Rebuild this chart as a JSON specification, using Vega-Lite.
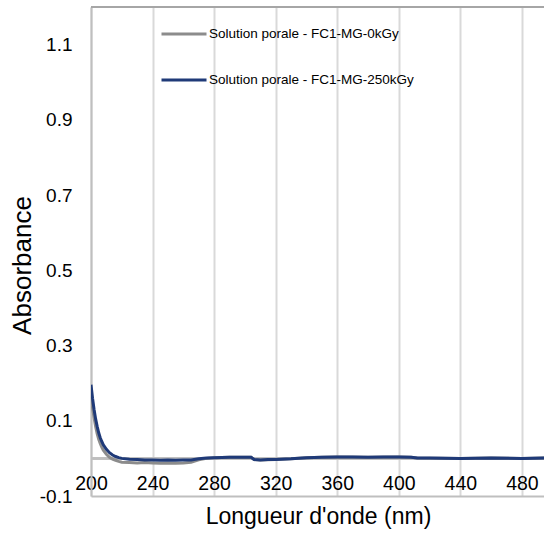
{
  "$schema": "https://vega.github.io/schema/vega-lite/v6.json",
  "autosize": {"type": "none"},
  "padding": {"left": 91, "top": 7, "right": 0, "bottom": 37},
  "width": 454,
  "height": 489,
  "background": "white",
  "config": {
    "font": "Liberation Sans",
    "view": {"stroke": null}
  },
  "data": {
    "values": [
      {"wl": 200, "A": 0.170, "s": "Solution porale - FC1-MG-0kGy"},
      {"wl": 201, "A": 0.135, "s": "Solution porale - FC1-MG-0kGy"},
      {"wl": 202, "A": 0.108, "s": "Solution porale - FC1-MG-0kGy"},
      {"wl": 203, "A": 0.085, "s": "Solution porale - FC1-MG-0kGy"},
      {"wl": 204, "A": 0.066, "s": "Solution porale - FC1-MG-0kGy"},
      {"wl": 205, "A": 0.051, "s": "Solution porale - FC1-MG-0kGy"},
      {"wl": 206, "A": 0.040, "s": "Solution porale - FC1-MG-0kGy"},
      {"wl": 207, "A": 0.030, "s": "Solution porale - FC1-MG-0kGy"},
      {"wl": 208, "A": 0.022, "s": "Solution porale - FC1-MG-0kGy"},
      {"wl": 210, "A": 0.011, "s": "Solution porale - FC1-MG-0kGy"},
      {"wl": 212, "A": 0.003, "s": "Solution porale - FC1-MG-0kGy"},
      {"wl": 214, "A": -0.002, "s": "Solution porale - FC1-MG-0kGy"},
      {"wl": 216, "A": -0.005, "s": "Solution porale - FC1-MG-0kGy"},
      {"wl": 218, "A": -0.008, "s": "Solution porale - FC1-MG-0kGy"},
      {"wl": 220, "A": -0.010, "s": "Solution porale - FC1-MG-0kGy"},
      {"wl": 225, "A": -0.011, "s": "Solution porale - FC1-MG-0kGy"},
      {"wl": 230, "A": -0.012, "s": "Solution porale - FC1-MG-0kGy"},
      {"wl": 235, "A": -0.011, "s": "Solution porale - FC1-MG-0kGy"},
      {"wl": 240, "A": -0.012, "s": "Solution porale - FC1-MG-0kGy"},
      {"wl": 245, "A": -0.013, "s": "Solution porale - FC1-MG-0kGy"},
      {"wl": 250, "A": -0.012, "s": "Solution porale - FC1-MG-0kGy"},
      {"wl": 255, "A": -0.013, "s": "Solution porale - FC1-MG-0kGy"},
      {"wl": 260, "A": -0.012, "s": "Solution porale - FC1-MG-0kGy"},
      {"wl": 265, "A": -0.010, "s": "Solution porale - FC1-MG-0kGy"},
      {"wl": 270, "A": -0.004, "s": "Solution porale - FC1-MG-0kGy"},
      {"wl": 275, "A": 0.000, "s": "Solution porale - FC1-MG-0kGy"},
      {"wl": 280, "A": 0.002, "s": "Solution porale - FC1-MG-0kGy"},
      {"wl": 290, "A": 0.003, "s": "Solution porale - FC1-MG-0kGy"},
      {"wl": 300, "A": 0.003, "s": "Solution porale - FC1-MG-0kGy"},
      {"wl": 304, "A": 0.003, "s": "Solution porale - FC1-MG-0kGy"},
      {"wl": 306, "A": -0.003, "s": "Solution porale - FC1-MG-0kGy"},
      {"wl": 310, "A": -0.004, "s": "Solution porale - FC1-MG-0kGy"},
      {"wl": 320, "A": -0.003, "s": "Solution porale - FC1-MG-0kGy"},
      {"wl": 330, "A": -0.001, "s": "Solution porale - FC1-MG-0kGy"},
      {"wl": 340, "A": 0.002, "s": "Solution porale - FC1-MG-0kGy"},
      {"wl": 350, "A": 0.003, "s": "Solution porale - FC1-MG-0kGy"},
      {"wl": 360, "A": 0.004, "s": "Solution porale - FC1-MG-0kGy"},
      {"wl": 380, "A": 0.003, "s": "Solution porale - FC1-MG-0kGy"},
      {"wl": 400, "A": 0.004, "s": "Solution porale - FC1-MG-0kGy"},
      {"wl": 408, "A": 0.003, "s": "Solution porale - FC1-MG-0kGy"},
      {"wl": 412, "A": 0.001, "s": "Solution porale - FC1-MG-0kGy"},
      {"wl": 440, "A": 0.000, "s": "Solution porale - FC1-MG-0kGy"},
      {"wl": 460, "A": 0.001, "s": "Solution porale - FC1-MG-0kGy"},
      {"wl": 480, "A": 0.000, "s": "Solution porale - FC1-MG-0kGy"},
      {"wl": 495, "A": 0.001, "s": "Solution porale - FC1-MG-0kGy"},
      {"wl": 200, "A": 0.196, "s": "Solution porale - FC1-MG-250kGy"},
      {"wl": 201, "A": 0.160, "s": "Solution porale - FC1-MG-250kGy"},
      {"wl": 202, "A": 0.130, "s": "Solution porale - FC1-MG-250kGy"},
      {"wl": 203, "A": 0.105, "s": "Solution porale - FC1-MG-250kGy"},
      {"wl": 204, "A": 0.085, "s": "Solution porale - FC1-MG-250kGy"},
      {"wl": 205, "A": 0.068, "s": "Solution porale - FC1-MG-250kGy"},
      {"wl": 206, "A": 0.055, "s": "Solution porale - FC1-MG-250kGy"},
      {"wl": 207, "A": 0.045, "s": "Solution porale - FC1-MG-250kGy"},
      {"wl": 208, "A": 0.036, "s": "Solution porale - FC1-MG-250kGy"},
      {"wl": 210, "A": 0.024, "s": "Solution porale - FC1-MG-250kGy"},
      {"wl": 212, "A": 0.015, "s": "Solution porale - FC1-MG-250kGy"},
      {"wl": 214, "A": 0.009, "s": "Solution porale - FC1-MG-250kGy"},
      {"wl": 216, "A": 0.005, "s": "Solution porale - FC1-MG-250kGy"},
      {"wl": 218, "A": 0.002, "s": "Solution porale - FC1-MG-250kGy"},
      {"wl": 220, "A": 0.000, "s": "Solution porale - FC1-MG-250kGy"},
      {"wl": 225, "A": -0.002, "s": "Solution porale - FC1-MG-250kGy"},
      {"wl": 230, "A": -0.003, "s": "Solution porale - FC1-MG-250kGy"},
      {"wl": 235, "A": -0.004, "s": "Solution porale - FC1-MG-250kGy"},
      {"wl": 240, "A": -0.004, "s": "Solution porale - FC1-MG-250kGy"},
      {"wl": 245, "A": -0.005, "s": "Solution porale - FC1-MG-250kGy"},
      {"wl": 250, "A": -0.004, "s": "Solution porale - FC1-MG-250kGy"},
      {"wl": 255, "A": -0.005, "s": "Solution porale - FC1-MG-250kGy"},
      {"wl": 260, "A": -0.004, "s": "Solution porale - FC1-MG-250kGy"},
      {"wl": 265, "A": -0.004, "s": "Solution porale - FC1-MG-250kGy"},
      {"wl": 270, "A": -0.001, "s": "Solution porale - FC1-MG-250kGy"},
      {"wl": 275, "A": 0.001, "s": "Solution porale - FC1-MG-250kGy"},
      {"wl": 280, "A": 0.002, "s": "Solution porale - FC1-MG-250kGy"},
      {"wl": 290, "A": 0.003, "s": "Solution porale - FC1-MG-250kGy"},
      {"wl": 300, "A": 0.003, "s": "Solution porale - FC1-MG-250kGy"},
      {"wl": 304, "A": 0.003, "s": "Solution porale - FC1-MG-250kGy"},
      {"wl": 306, "A": -0.003, "s": "Solution porale - FC1-MG-250kGy"},
      {"wl": 310, "A": -0.004, "s": "Solution porale - FC1-MG-250kGy"},
      {"wl": 315, "A": -0.003, "s": "Solution porale - FC1-MG-250kGy"},
      {"wl": 320, "A": -0.003, "s": "Solution porale - FC1-MG-250kGy"},
      {"wl": 330, "A": -0.001, "s": "Solution porale - FC1-MG-250kGy"},
      {"wl": 340, "A": 0.002, "s": "Solution porale - FC1-MG-250kGy"},
      {"wl": 350, "A": 0.003, "s": "Solution porale - FC1-MG-250kGy"},
      {"wl": 360, "A": 0.004, "s": "Solution porale - FC1-MG-250kGy"},
      {"wl": 370, "A": 0.004, "s": "Solution porale - FC1-MG-250kGy"},
      {"wl": 380, "A": 0.003, "s": "Solution porale - FC1-MG-250kGy"},
      {"wl": 390, "A": 0.004, "s": "Solution porale - FC1-MG-250kGy"},
      {"wl": 400, "A": 0.004, "s": "Solution porale - FC1-MG-250kGy"},
      {"wl": 408, "A": 0.003, "s": "Solution porale - FC1-MG-250kGy"},
      {"wl": 412, "A": 0.001, "s": "Solution porale - FC1-MG-250kGy"},
      {"wl": 420, "A": 0.001, "s": "Solution porale - FC1-MG-250kGy"},
      {"wl": 440, "A": 0.000, "s": "Solution porale - FC1-MG-250kGy"},
      {"wl": 460, "A": 0.001, "s": "Solution porale - FC1-MG-250kGy"},
      {"wl": 480, "A": 0.000, "s": "Solution porale - FC1-MG-250kGy"},
      {"wl": 495, "A": 0.001, "s": "Solution porale - FC1-MG-250kGy"}
    ]
  },
  "layer": [
    {
      "mark": {"type": "rule", "color": "#bfbfbf", "strokeWidth": 2},
      "encoding": {"y": {"datum": 0, "type": "quantitative"}}
    },
    {
      "mark": {"type": "line", "strokeWidth": 3, "clip": true},
      "encoding": {
        "x": {
          "field": "wl", "type": "quantitative",
          "scale": {"domain": [200, 495], "nice": false, "zero": false},
          "axis": {
            "title": "Longueur d'onde (nm)",
            "values": [200, 240, 280, 320, 360, 400, 440, 480],
            "grid": true, "gridColor": "#d9d9d9", "gridWidth": 2,
            "domain": true, "domainColor": "#bfbfbf", "domainWidth": 2,
            "ticks": false,
            "labelFlush": false, "labelBound": false,
            "labelFontSize": 19.5, "labelColor": "#000000", "labelPadding": -22, "labelDx": 1,
            "titleFontSize": 23, "titleFontWeight": "normal", "titleColor": "#000000",
            "titleBaseline": "middle", "titleY": 20
          }
        },
        "y": {
          "field": "A", "type": "quantitative",
          "scale": {"domain": [-0.1, 1.2], "nice": false, "zero": false},
          "axis": {
            "title": "Absorbance",
            "values": [-0.1, 0.1, 0.3, 0.5, 0.7, 0.9, 1.1],
            "labelExpr": "datum.value < 0 ? '-0.1' : format(datum.value, '.1f')",
            "labelOverlap": false, "labelBound": false,
            "grid": false, "ticks": false,
            "domain": true, "domainColor": "#bfbfbf", "domainWidth": 2,
            "labelFontSize": 19, "labelColor": "#000000", "labelPadding": 19,
            "titleFontSize": 26, "titleFontWeight": "normal", "titleColor": "#000000",
            "titleAngle": -90, "titleBaseline": "middle", "titleAlign": "center",
            "titleX": -69, "titleY": 258
          }
        },
        "color": {
          "field": "s", "type": "nominal",
          "scale": {
            "domain": ["Solution porale - FC1-MG-0kGy", "Solution porale - FC1-MG-250kGy"],
            "range": ["#8c8c8c", "#1f3a78"]
          },
          "legend": {
            "title": null,
            "orient": "none", "legendX": 69, "legendY": 3,
            "symbolType": "stroke", "symbolSize": 2025, "symbolStrokeWidth": 3,
            "labelFontSize": 13.5, "labelColor": "#000000", "labelOffset": 1, "labelLimit": 400,
            "rowPadding": 15
          }
        }
      }
    },
    {
      "mark": {"type": "rule", "color": "#a6a6a6", "strokeWidth": 2},
      "encoding": {"y": {"datum": 1.2, "type": "quantitative"}}
    }
  ]
}
